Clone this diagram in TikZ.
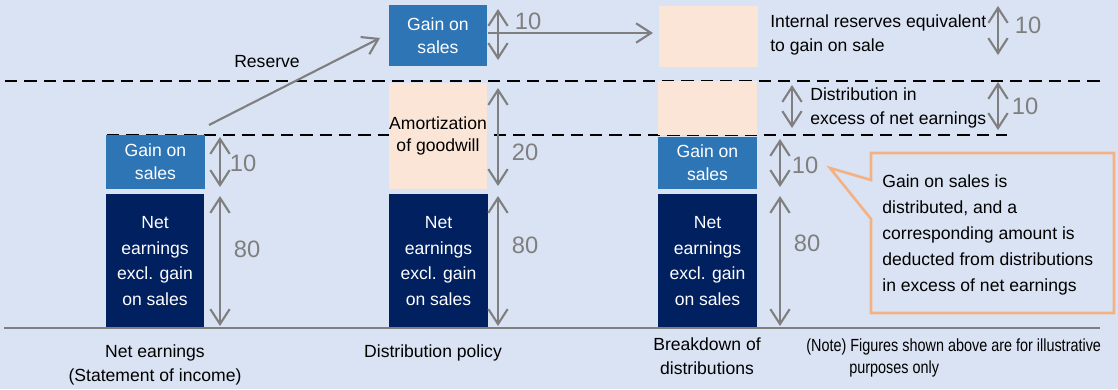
\documentclass[tikz,border=0pt]{standalone}
\usepackage{fontspec}
\setmainfont{Liberation Sans}
\newfontfamily\notefont{Liberation Sans}[FakeStretch=0.82]
\usetikzlibrary{arrows.meta,positioning}
\definecolor{bgblue}{RGB}{218,227,243}
\definecolor{navy}{RGB}{0,32,96}
\definecolor{gainblue}{RGB}{46,117,182}
\definecolor{peach}{RGB}{251,229,214}
\definecolor{calloutorange}{RGB}{244,177,131}
\definecolor{dimgray}{RGB}{127,127,127}

\begin{document}
\begin{tikzpicture}[x=0.02cm, y=-0.02cm, every node/.style={font=\fontsize{10}{13.5}\selectfont}]
\tikzset{
  block/.style={rectangle, inner sep=0pt, minimum width=1.98cm, align=center, font=\fontsize{10}{13}\selectfont},
  netbox/.style={block, fill=navy, text=white, minimum height=2.68cm, font=\fontsize{10}{14.7}\selectfont},
  gainbox/.style={block, fill=gainblue, text=white},
  resbox/.style={block, fill=peach, font=\fontsize{10}{12.5}\selectfont},
  dim/.style={draw=dimgray, line width=1.2pt, {Straight Barb[length=8.5pt,width=11pt]}-{Straight Barb[length=8.5pt,width=11pt]}},
  flow/.style={draw=dimgray, line width=1.2pt, -{Straight Barb[length=8.5pt,width=11pt]}},
  amount/.style={text=dimgray, font=\fontsize{13.5}{15}\selectfont, inner sep=0pt},
  level/.style={draw=black, line width=1.2pt, dash pattern=on 7pt off 4pt}
}
\useasboundingbox (0,0) rectangle (1118,389);
\fill[bgblue] (0,0) rectangle (1118,389);

\coordinate (lvlA) at (5,81);
\coordinate (lvlAend) at (1102,81);
\coordinate (lvlB) at (107,135);
\coordinate (lvlBend) at (1007,135);
\draw[level] (lvlA) -- (lvlAend);
\draw[level] (lvlB) -- (lvlBend);

\node[netbox] (net1) at (155,261) {Net\\earnings\\excl. gain\\on sales};
\node[gainbox, minimum height=1.08cm] (gain1) at (155.5,162) {Gain on\\sales};

\node[gainbox, minimum height=1.22cm] (gain2) at (438,35.5) {Gain on\\sales};
\node[resbox, minimum height=2.12cm] (amort) at (438,136) {Amortization\\of goodwill};
\node[netbox] (net2) at (438.5,261) {Net\\earnings\\excl. gain\\on sales};

\node[resbox, minimum height=1.22cm] (intres) at (708.5,36.5) {};
\node[resbox, minimum height=1.08cm] (excess) at (707.5,108) {};
\node[gainbox, minimum height=1.04cm] (gain3) at (707.5,163) {Gain on\\sales};
\node[netbox] (net3) at (707.5,261) {Net\\earnings\\excl. gain\\on sales};

\coordinate (base) at (4,328);
\coordinate (baseend) at (1100,328);
\draw[dimgray, line width=1.2pt] (base) -- (baseend);

\coordinate (d1a) at (220,137); \coordinate (d1b) at (220,187);
\coordinate (d2a) at (220,196); \coordinate (d2b) at (220,326);
\draw[dim] (d1a) -- (d1b);
\draw[dim] (d2a) -- (d2b);
\node[amount] (v1a) at (243,163) {10};
\node[amount] (v1b) at (247,249) {80};

\coordinate (d3a) at (498,9); \coordinate (d3b) at (498,60);
\coordinate (d4a) at (498,88); \coordinate (d4b) at (498,186);
\coordinate (d5a) at (498,196); \coordinate (d5b) at (498,326);
\draw[dim] (d3a) -- (d3b);
\draw[dim] (d4a) -- (d4b);
\draw[dim] (d5a) -- (d5b);
\node[amount] (v2a) at (528,21) {10};
\node[amount] (v2b) at (525,152) {20};
\node[amount] (v2c) at (525,245) {80};

\coordinate (d6a) at (780,139); \coordinate (d6b) at (780,187);
\coordinate (d7a) at (780,196); \coordinate (d7b) at (780,326);
\draw[dim] (d6a) -- (d6b);
\draw[dim] (d7a) -- (d7b);
\node[amount] (v3a) at (805,165) {10};
\node[amount] (v3b) at (807,243) {80};

\coordinate (d8a) at (998,6); \coordinate (d8b) at (998,55);
\coordinate (d9a) at (998,82); \coordinate (d9b) at (998,130);
\coordinate (d10a) at (792,85); \coordinate (d10b) at (792,128);
\draw[dim] (d8a) -- (d8b);
\draw[dim] (d9a) -- (d9b);
\draw[dim] (d10a) -- (d10b);
\node[amount] (v4a) at (1028,25) {10};
\node[amount] (v4b) at (1025,106) {10};

\node[anchor=west, align=left, inner sep=0pt] (intlabel) at (770,35) {Internal reserves equivalent\\to gain on sale};
\node[anchor=west, align=left, inner sep=0pt] (exlabel) at (810,108) {Distribution in\\excess of net earnings};

\coordinate (rsvfrom) at (209,125);
\coordinate (rsvto) at (380,38);
\draw[flow] (rsvfrom) -- (rsvto);
\node (rsvlabel) at (267,62) {Reserve};
\coordinate (keepfrom) at (488,33);
\coordinate (keepto) at (653,33);
\draw[flow] (keepfrom) -- (keepto);

\draw[calloutorange, line width=1.5pt] (871,153) -- (1114,153) -- (1114,313) -- (871,313) -- (871,219) -- (830,168) -- (871,180) -- cycle;
\node[anchor=west, align=left, inner sep=0pt, font=\fontsize{10}{14.7}\selectfont] (callout) at (882,235) {Gain on sales is\\distributed, and a\\corresponding amount is\\deducted from distributions\\in excess of net earnings};

\node[align=center] (lbl1) at (155,365) {Net earnings\\(Statement of income)};
\node (lbl2) at (433,353) {Distribution policy};
\node[align=center] (lbl3) at (707,356) {Breakdown of\\distributions};
\node[anchor=north west, align=left, inner sep=0pt, font=\notefont\fontsize{10}{12.5}\selectfont] (note) at (806,338) {(Note) Figures shown above are for illustrative\\\hspace*{0.86cm}purposes only};
\end{tikzpicture}
\end{document}
